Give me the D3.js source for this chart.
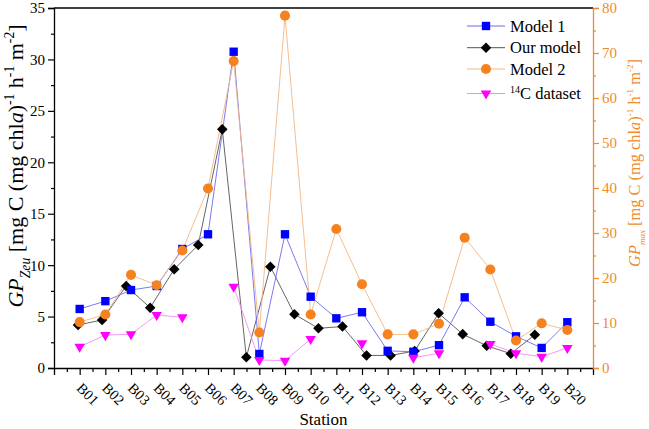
<!DOCTYPE html>
<html><head><meta charset="utf-8">
<script src="https://cdn.jsdelivr.net/npm/d3@7/dist/d3.min.js"></script>
<style>body{margin:0;background:#fff}svg{display:block}</style>
</head><body>
<svg id="c" width="649" height="429"></svg>
<script>
const stations = ["B01","B02","B03","B04","B05","B06","B07","B08","B09","B10","B11","B12","B13","B14","B15","B16","B17","B18","B19","B20"];
const model1 = [5.74,6.5,7.58,7.97,11.57,13.0,30.75,1.36,13.0,6.93,4.83,5.42,1.67,1.58,2.22,6.87,4.5,3.08,1.95,4.45];
const ourModel = [4.18,4.67,7.97,5.86,9.6,11.96,23.2,1.04,9.85,5.22,3.86,4.03,1.22,1.22,1.65,5.32,3.29,2.16,1.39,3.23];
const model2 = [10.2,11.9,20.7,18.4,26.1,39.9,68.2,7.9,78.3,11.9,30.9,18.6,7.48,7.48,9.85,28.96,21.9,6.1,9.93,8.44];
const c14 = [2.07,3.2,3.28,5.15,4.93,null,7.9,0.78,0.71,2.82,null,2.4,null,1.0,1.43,null,2.33,1.43,1.1,1.95];
const leftTicks = [0,5,10,15,20,25,30,35];
const rightTicks = [0,10,20,30,40,50,60,70,80];

function hasFont(f){
  const c = document.createElement("canvas").getContext("2d");
  const s = "mmmmmmmmmwwwwwlliiB01Station";
  c.font = "40px monospace"; const a = c.measureText(s).width;
  c.font = `40px "${f}", monospace`; const b = c.measureText(s).width;
  return Math.abs(a-b) > 0.5;
}
const FONT = ["Liberation Serif","Tinos","Times New Roman","DejaVu Serif","FreeSerif","Nimbus Roman"].find(hasFont) || "serif";

const ORANGE = "#EF8A2D";
const svg = d3.select("#c").style("font-family",`"${FONT}", serif`);
const L = 54, R = 593, T = 8, B = 368;
const x = d3.scaleLinear().domain([0,21]).range([L,R]);
const xOur = d3.scaleLinear().domain([0,22.42]).range([L,R]);
const yL = d3.scaleLinear().domain([0,35]).range([B,T]);
const yR = d3.scaleLinear().domain([0,80]).range([B,T]);

svg.append("line").attr("x1",L).attr("x2",R).attr("y1",T).attr("y2",T).attr("stroke","#000").attr("stroke-width",1.3);

// x axis
const gx = svg.append("g").attr("transform",`translate(0,${B})`);
gx.call(d3.axisBottom(x).tickValues(d3.range(1,21)).tickSize(7).tickFormat(""))
  .call(g=>g.select(".domain").attr("stroke-width",1.3));
gx.append("g").call(d3.axisBottom(x).tickValues(d3.range(0.5,21,1)).tickSize(4).tickFormat(""))
  .call(g=>g.select(".domain").remove());
gx.selectAll("line").attr("stroke-width",1.2);
svg.append("g").selectAll("text").data(stations).join("text")
  .attr("transform",(d,i)=>`translate(${x(i+1)-4},${B+21}) rotate(45)`)
  .attr("font-size",14.5).attr("fill","#000").text(d=>d);
svg.append("text").attr("x",(L+R)/2).attr("y",425).attr("text-anchor","middle").attr("font-size",17).text("Station");

// left axis
const gl = svg.append("g").attr("transform",`translate(${L},0)`);
gl.call(d3.axisLeft(yL).tickValues(leftTicks).tickSize(6).tickPadding(3).tickFormat(d3.format("d")))
  .call(g=>g.select(".domain").attr("stroke-width",1.3));
gl.attr("font-family",null);
gl.selectAll("text").attr("font-size",15).attr("dy","0.33em");
gl.append("g").call(d3.axisLeft(yL).tickValues(d3.range(2.5,35,5)).tickSize(3).tickFormat(""))
  .call(g=>g.select(".domain").remove());
gl.selectAll("line").attr("stroke-width",1.2);

// right axis
const gr = svg.append("g").attr("transform",`translate(${R},0)`);
gr.call(d3.axisRight(yR).tickValues(rightTicks).tickSize(6).tickPadding(3).tickFormat(d3.format("d")))
  .call(g=>g.select(".domain").attr("stroke",ORANGE).attr("stroke-width",1.3));
gr.attr("font-family",null);
gr.selectAll("text").attr("font-size",15).attr("fill",ORANGE).attr("dy","0.33em");
gr.append("g").call(d3.axisRight(yR).tickValues(d3.range(5,80,10)).tickSize(3).tickFormat(""))
  .call(g=>g.select(".domain").remove());
gr.selectAll("line").attr("stroke",ORANGE).attr("stroke-width",1.2);

// axis titles
function unitLabel(sel, sub, fs, k){
  sel.selectAll("tspan").remove();
  sel.attr("font-size",fs);
  const sm = fs*k;
  sel.append("tspan").attr("font-style","italic").text("GP");
  sel.append("tspan").attr("font-style","italic").attr("font-size",sm).attr("dy",fs*0.3).text(sub);
  sel.append("tspan").attr("dy",-fs*0.3).text(" [mg C (mg chl");
  sel.append("tspan").attr("font-style","italic").text("a");
  sel.append("tspan").text(")");
  sel.append("tspan").attr("font-size",sm).attr("dy",-fs*0.4).text("-1");
  sel.append("tspan").attr("dy",fs*0.4).text(" h");
  sel.append("tspan").attr("font-size",sm).attr("dy",-fs*0.4).text("-1");
  sel.append("tspan").attr("dy",fs*0.4).text(" m");
  sel.append("tspan").attr("font-size",sm).attr("dy",-fs*0.4).text("-2");
  sel.append("tspan").attr("dy",fs*0.4).text("]");
}
function fitLabel(sel, sub, fs, k, target){
  unitLabel(sel, sub, fs, k);
  const w = sel.node().getBBox().width;
  if (w > 0) unitLabel(sel, sub, fs*target/w, k);
}
const tl = svg.append("text").attr("transform","translate(23,166) rotate(-90)").attr("text-anchor","middle");
unitLabel(tl,"Zeu",22,0.62);
const tr = svg.append("text").attr("transform","translate(640,163) rotate(-90)").attr("text-anchor","middle").attr("fill",ORANGE);
fitLabel(tr,"max",15,0.55,208);

// series
const series = [
  {name:"Our model", data:ourModel, xs:xOur, ys:yL, line:"#555", sym:"diamond", fill:"#000"},
  {name:"Model 1", data:model1, xs:x, ys:yL, line:"#6b6bf0", sym:"square", fill:"#0000ff"},
  {name:"Model 2", data:model2, xs:x, ys:yR, line:"#f3b783", sym:"circle", fill:"#f5821f"},
  {name:"c14", data:c14, xs:x, ys:yL, line:"#f28cf2", sym:"triangle", fill:"#ff00ff"}
];
function symPath(t){
  if(t==="square") return d3.symbol(d3.symbolSquare,70)();
  if(t==="diamond") return d3.symbol(d3.symbolSquare,56)();
  if(t==="circle") return d3.symbol(d3.symbolCircle,80)();
  return d3.symbol(d3.symbolTriangle,48)();
}
function symRot(t){ return t==="diamond"?45:(t==="triangle"?180:0); }
series.forEach(s=>{
  const ln = d3.line().defined(d=>d!=null).x((d,i)=>s.xs(i+1)).y(d=>s.ys(d));
  svg.append("path").attr("d",ln(s.data)).attr("fill","none").attr("stroke",s.line).attr("stroke-width",0.9);
});
series.forEach(s=>{
  svg.append("g").selectAll("path").data(s.data.map((d,i)=>({d,i})).filter(o=>o.d!=null)).join("path")
    .attr("d",symPath(s.sym)).attr("fill",s.fill)
    .attr("transform",o=>`translate(${s.xs(o.i+1)},${s.ys(o.d)}) rotate(${symRot(s.sym)})`);
});

// legend
const leg = [
  {label:"Model 1", s:series[1], y:26},
  {label:"Our model", s:series[0], y:47.7},
  {label:"Model 2", s:series[2], y:69},
  {label:"C dataset", sup:"14", s:series[3], y:93.5}
];
leg.forEach(l=>{
  const g = svg.append("g");
  g.append("line").attr("x1",467).attr("x2",505).attr("y1",l.y).attr("y2",l.y).attr("stroke",l.s.line).attr("stroke-width",1);
  g.append("path").attr("d",symPath(l.s.sym)).attr("fill",l.s.fill).attr("transform",`translate(486,${l.y}) rotate(${symRot(l.s.sym)})`);
  const t = g.append("text").attr("x",510).attr("y",l.y+5.5).attr("font-size",16.5);
  if(l.sup){ t.append("tspan").attr("font-size",10).attr("dy",-6).text(l.sup); t.append("tspan").attr("dy",6).text(l.label); }
  else t.text(l.label);
});
</script>
</body></html>
